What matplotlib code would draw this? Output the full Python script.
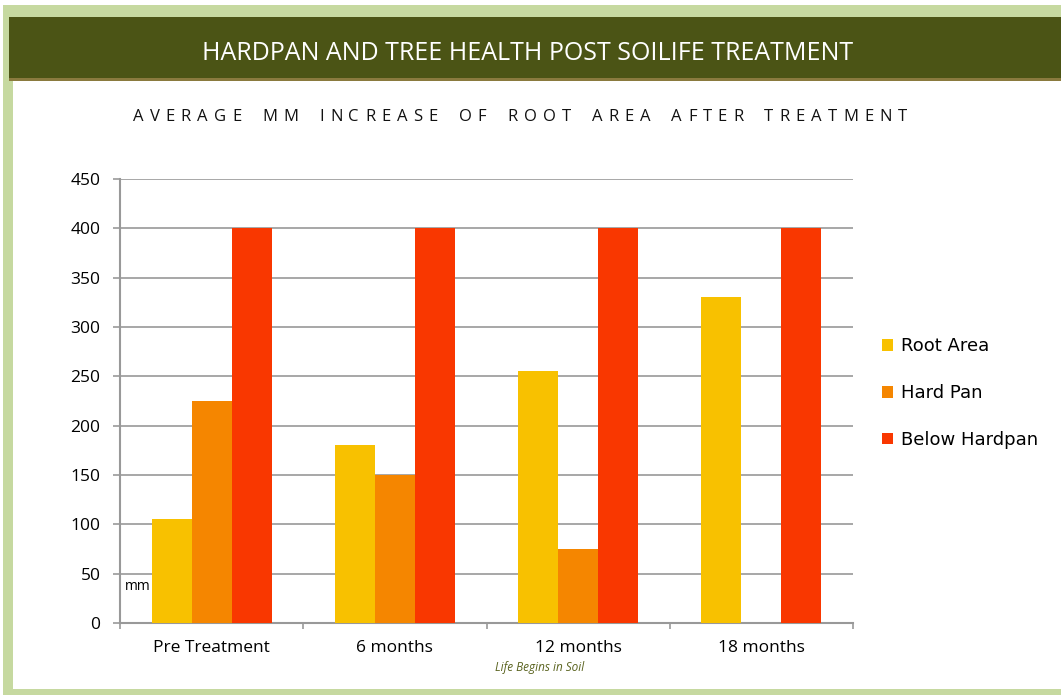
import matplotlib
matplotlib.use("Agg")
import matplotlib.pyplot as plt
from matplotlib.patches import Rectangle
import numpy as np

categories = ["Pre Treatment", "6 months", "12 months", "18 months"]
root_area = [105, 180, 255, 330]
hard_pan = [225, 150, 75, 0]
below_hardpan = [400, 400, 400, 400]
series_names = ["Root Area", "Hard Pan", "Below Hardpan"]
colors = ["#F8C100", "#F58600", "#F93700"]
y_ticks = [0, 50, 100, 150, 200, 250, 300, 350, 400, 450]

W, H = 1061, 695
fig = plt.figure(figsize=(W / 100, H / 100), dpi=100)
fig.patch.set_facecolor("white")

def px(x0, y0, x1, y1, color):
    fig.patches.append(Rectangle((x0 / W, 1 - y1 / H), (x1 - x0) / W, (y1 - y0) / H,
                                 transform=fig.transFigure, facecolor=color,
                                 edgecolor="none", zorder=-10))

green = "#C6D9A0"
px(3, 5, W, H, green)          # outer frame
px(13, 80, W, 689, "white")    # inner white
px(9, 17, W, 78, "#4B5415")    # header
px(9, 78, W, 81, "#8A7A3E")    # brown rule

fig.text(528 / W, 1 - 53 / H, "HARDPAN AND TREE HEALTH POST SOILIFE TREATMENT",
         color="white", fontsize=18, family="Open Sans", ha="center", va="center")

# letter-spaced subtitle
sub = "AVERAGE MM INCREASE OF ROOT AREA AFTER TREATMENT"
renderer = fig.canvas.get_renderer()
fs_sub = 12
widths = []
for ch in sub:
    if ch == " ":
        widths.append(None)
        continue
    t = fig.text(0, 0, ch, fontsize=fs_sub, family="Open Sans")
    widths.append(t.get_window_extent(renderer).width)
    t.remove()
letter_sum = sum(w for w in widths if w is not None)
n_sp = sum(1 for w in widths if w is None)
n_gap = len(sub) - 1
word_gap = 21.0
target = 907 - 133
tracking = (target - letter_sum - n_sp * word_gap) / (n_gap - 2 * n_sp)
space_w = word_gap - 2 * tracking
xs = 133.0
for ch, w in zip(sub, widths):
    if w is None:
        xs += space_w + tracking
        continue
    fig.text(xs / W, 1 - 117 / H, ch, color="#111111", fontsize=fs_sub,
             family="Open Sans", ha="left", va="center")
    xs += w + tracking

ax = fig.add_axes([120 / W, 1 - 623 / H, (853 - 120) / W, (623 - 179) / H])
x = np.arange(len(categories))
bw = 0.218
for i, (vals, name, c) in enumerate(zip([root_area, hard_pan, below_hardpan], series_names, colors)):
    ax.bar(x + (i - 1) * bw, vals, width=bw, color=c, label=name, zorder=3)

ax.set_xlim(-0.5, len(categories) - 0.5)
ax.set_ylim(0, 450)
ax.set_yticks(y_ticks)
ax.set_yticklabels([str(t) for t in y_ticks], family="Open Sans", fontsize=12.5)
ax.set_xticks(x)
ax.set_xticklabels(categories, family="Open Sans", fontsize=12.5)
ax.set_xticks(np.arange(-0.5, len(categories)), minor=True)
ax.tick_params(axis="x", which="major", length=0, pad=12)
ax.tick_params(axis="x", which="minor", length=4, color="#999999", width=1.2)
ax.tick_params(axis="y", length=5, color="#999999", width=1.2, pad=9)
ax.grid(axis="y", color="#A0A0A0", linewidth=1.3, zorder=0)
for s in ["top", "right"]:
    ax.spines[s].set_visible(False)
for s in ["left", "bottom"]:
    ax.spines[s].set_color("#999999")
    ax.spines[s].set_linewidth(1.5)
ax.set_facecolor("none")

ax.text(125 / W, 1 - 587 / H, "mm", transform=fig.transFigure, fontsize=10,
        family="Open Sans", ha="left", va="center", zorder=5)

handles, labels = ax.get_legend_handles_labels()
leg = fig.legend(handles, labels, loc="upper left", bbox_to_anchor=(866 / W, 1 - 321 / H),
                 frameon=False, prop={"family": "DejaVu Sans", "size": 13},
                 handlelength=0.6, handleheight=0.6, handletextpad=0.45, labelspacing=1.6)

fig.text(540 / W, 1 - 668 / H, "Life Begins in Soil", color="#5B6420", fontsize=8.5,
         style="italic", family="Open Sans", ha="center", va="center")

fig.savefig("out.png", dpi=100, facecolor="white")
